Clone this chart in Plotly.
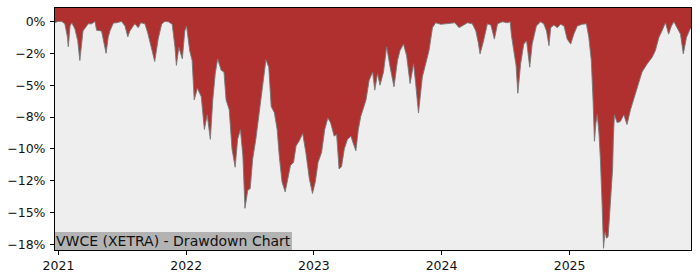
import plotly.graph_objects as go

# ---- data ----
dates = [
 "2020-12-22","2020-12-30","2021-01-10","2021-01-19","2021-01-26","2021-01-29","2021-02-03","2021-02-08",
 "2021-02-17","2021-02-25","2021-03-03","2021-03-08","2021-03-12","2021-03-27","2021-04-06","2021-04-15",
 "2021-04-20","2021-05-04","2021-05-12","2021-05-17","2021-05-23","2021-05-28","2021-06-07","2021-06-16",
 "2021-06-30","2021-07-10","2021-07-18","2021-07-24","2021-08-07","2021-08-17","2021-08-24","2021-09-05",
 "2021-09-13","2021-09-19","2021-09-27","2021-10-03","2021-10-08","2021-10-13","2021-10-23","2021-11-01",
 "2021-11-11","2021-11-22","2021-11-30","2021-12-04","2021-12-11","2021-12-21","2021-12-28","2022-01-02",
 "2022-01-11","2022-01-18","2022-01-24","2022-02-02","2022-02-13","2022-02-22","2022-03-02","2022-03-11",
 "2022-03-18","2022-03-25","2022-04-01","2022-04-11","2022-04-19","2022-04-25","2022-05-04","2022-05-12",
 "2022-05-21","2022-05-28","2022-06-05","2022-06-12","2022-06-18","2022-06-26","2022-07-03","2022-07-10",
 "2022-07-19","2022-07-29","2022-08-08","2022-08-17","2022-08-25","2022-09-01","2022-09-10","2022-09-18",
 "2022-09-24","2022-10-02","2022-10-11","2022-10-18","2022-10-26","2022-11-04","2022-11-11","2022-11-20",
 "2022-11-30","2022-12-09","2022-12-19","2022-12-28","2023-01-05","2023-01-13","2023-01-23","2023-02-01",
 "2023-02-10","2023-02-18","2023-02-28","2023-03-07","2023-03-14","2023-03-21","2023-03-29","2023-04-07",
 "2023-04-17","2023-04-24","2023-05-01","2023-05-08","2023-05-15","2023-05-30","2023-06-08","2023-06-18",
 "2023-06-24","2023-07-02","2023-07-09","2023-07-19","2023-07-28","2023-08-07","2023-08-18","2023-08-28",
 "2023-09-04","2023-09-14","2023-09-23","2023-10-03","2023-10-13","2023-10-19","2023-10-27","2023-11-07",
 "2023-11-17","2023-11-26","2023-12-06","2023-12-15","2023-12-30","2024-01-13","2024-01-27","2024-02-08",
 "2024-02-20","2024-03-05","2024-03-15","2024-03-29","2024-04-08","2024-04-15","2024-04-20","2024-04-30",
 "2024-05-11","2024-05-21","2024-05-31","2024-06-09","2024-06-23","2024-07-07","2024-07-15","2024-07-19",
 "2024-07-26","2024-08-01","2024-08-06","2024-08-14","2024-08-23","2024-08-31","2024-09-09","2024-09-16",
 "2024-09-28","2024-10-10","2024-10-19","2024-10-27","2024-11-03","2024-11-08","2024-11-17","2024-11-27",
 "2024-12-06","2024-12-16","2024-12-25","2025-01-04","2025-01-13","2025-01-23","2025-02-06","2025-02-18",
 "2025-02-25","2025-03-04","2025-03-09","2025-03-13","2025-03-17","2025-03-21","2025-03-26","2025-03-30",
 "2025-04-04","2025-04-08","2025-04-11","2025-04-13","2025-04-16","2025-04-21","2025-04-25","2025-04-30",
 "2025-05-04","2025-05-06","2025-05-09","2025-05-17","2025-05-26","2025-06-05","2025-06-14","2025-06-24",
 "2025-07-03","2025-07-13","2025-07-27","2025-08-11","2025-08-25","2025-09-03","2025-09-13","2025-09-22",
 "2025-10-02","2025-10-11","2025-10-19","2025-10-26","2025-11-05","2025-11-14","2025-11-22","2025-12-01",
 "2025-12-11","2025-12-14",
]
drawdown_pct = [
 -0.1,0.0,0.0,-0.19,-1.14,-1.99,-0.36,-0.11,
 -0.6,-1.52,-3.07,-1.52,-0.75,-0.19,-0.19,0.0,
 -0.7,-0.75,-1.9,-2.5,-1.27,-0.75,-0.13,-0.11,
 0.0,-0.36,-1.21,-0.75,-0.19,-0.5,-0.11,-0.19,
 -0.9,-1.68,-2.45,-3.15,-2.3,-1.37,-0.2,0.0,
 -0.03,-0.23,-2.04,-3.45,-2.04,-2.94,-0.75,-0.36,
 -2.3,-3.07,-6.16,-5.25,-5.9,-8.48,-7.32,-9.25,
 -6.16,-4.1,-2.94,-3.84,-3.97,-6.16,-6.93,-10.02,
 -11.44,-9.25,-8.48,-10.54,-14.66,-13.25,-13.11,-10.8,
 -9.25,-6.93,-4.87,-3.01,-3.59,-6.68,-7.16,-8.48,
 -10.54,-12.6,-13.37,-12.47,-11.31,-11.05,-9.77,-9.38,
 -8.79,-10.28,-12.34,-13.5,-12.6,-11.05,-10.28,-8.48,
 -7.57,-7.96,-9.0,-8.86,-11.57,-11.4,-10.0,-9.25,
 -9.0,-9.6,-10.15,-8.48,-7.45,-6.16,-4.61,-3.97,
 -5.39,-4.1,-5.0,-3.97,-1.99,-3.59,-5.13,-3.07,
 -2.3,-1.78,-2.68,-4.87,-3.32,-4.87,-7.19,-4.36,
 -3.2,-2.3,-0.49,-0.11,-0.23,-0.19,-0.11,-0.11,
 -0.49,-0.23,-0.11,-0.19,-0.75,-1.68,-2.55,-1.52,
 -0.19,-0.29,-1.39,-0.19,-0.03,-0.11,-0.03,-1.14,
 -2.3,-3.45,-5.64,-3.32,-1.78,-1.52,-3.59,-1.78,
 -0.36,-0.03,-0.19,-0.75,-1.9,-0.49,-0.29,-0.49,
 -0.23,-0.36,-1.39,-1.78,-1.0,-0.36,-0.23,-0.19,
 -1.27,-3.07,-6.16,-9.4,-8.0,-7.3,-8.8,-10.8,
 -14.4,-17.8,-16.8,-16.5,-17.0,-16.9,-15.3,-13.1,
 -11.5,-9.25,-7.32,-7.94,-7.86,-7.32,-8.09,-6.93,
 -6.16,-5.13,-3.97,-3.32,-2.81,-2.3,-1.27,-0.75,
 -0.11,-1.0,-0.36,-0.03,-0.49,-1.0,-2.55,-1.27,
 -0.62,-0.5,
]
y_tick_vals = [0, -2.5, -5, -7.5, -10, -12.5, -15, -17.5]
y_tick_text = ["0%", "\u22122%", "\u22125%", "\u22128%", "\u221210%", "\u221212%", "\u221215%", "\u221218%"]
x_tick_vals = ["2021-01-01", "2022-01-01", "2023-01-01", "2024-01-01", "2025-01-01"]
x_tick_text = ["2021", "2022", "2023", "2024", "2025"]
x_range = ["2020-12-22", "2025-12-14"]
y_range = [-17.93, 1.05]
title_text = "VWCE (XETRA) - Drawdown Chart"

FONT = "DejaVu Sans"
fig = go.Figure()
# upper boundary of the filled band (top of the axis)
fig.add_trace(go.Scatter(x=[dates[0], dates[-1]], y=[y_range[1], y_range[1]],
                         mode="lines", line=dict(width=0, color="rgba(0,0,0,0)"),
                         hoverinfo="skip", showlegend=False))
fig.add_trace(go.Scatter(x=dates, y=drawdown_pct, mode="lines",
                         line=dict(color="rgba(120,120,120,0.9)", width=1),
                         fill="tonexty", fillcolor="#b03030",
                         showlegend=False))

axis_common = dict(showline=True, linecolor="black", linewidth=1, mirror=True,
                   showgrid=False, zeroline=False, ticks="outside", ticklen=4,
                   tickcolor="black", tickfont=dict(family=FONT, size=12.5, color="#111111"))
fig.update_xaxes(type="date", range=x_range, tickvals=x_tick_vals, ticktext=x_tick_text, **axis_common)
fig.update_yaxes(range=y_range, tickvals=y_tick_vals, ticktext=y_tick_text,
                 ticklabelstandoff=2, **axis_common)

fig.add_annotation(text=title_text, xref="paper", yref="paper", x=0, y=0,
                   xanchor="left", yanchor="bottom", showarrow=False,
                   font=dict(family=FONT, size=14, color="#111111"),
                   bgcolor="#b3b3b3", borderpad=1, borderwidth=0)

fig.update_layout(width=700, height=280, margin=dict(l=53, r=9, t=7, b=28),
                  plot_bgcolor="#eeeeee", paper_bgcolor="white",
                  font=dict(family=FONT))
fig.write_html("out.html")
